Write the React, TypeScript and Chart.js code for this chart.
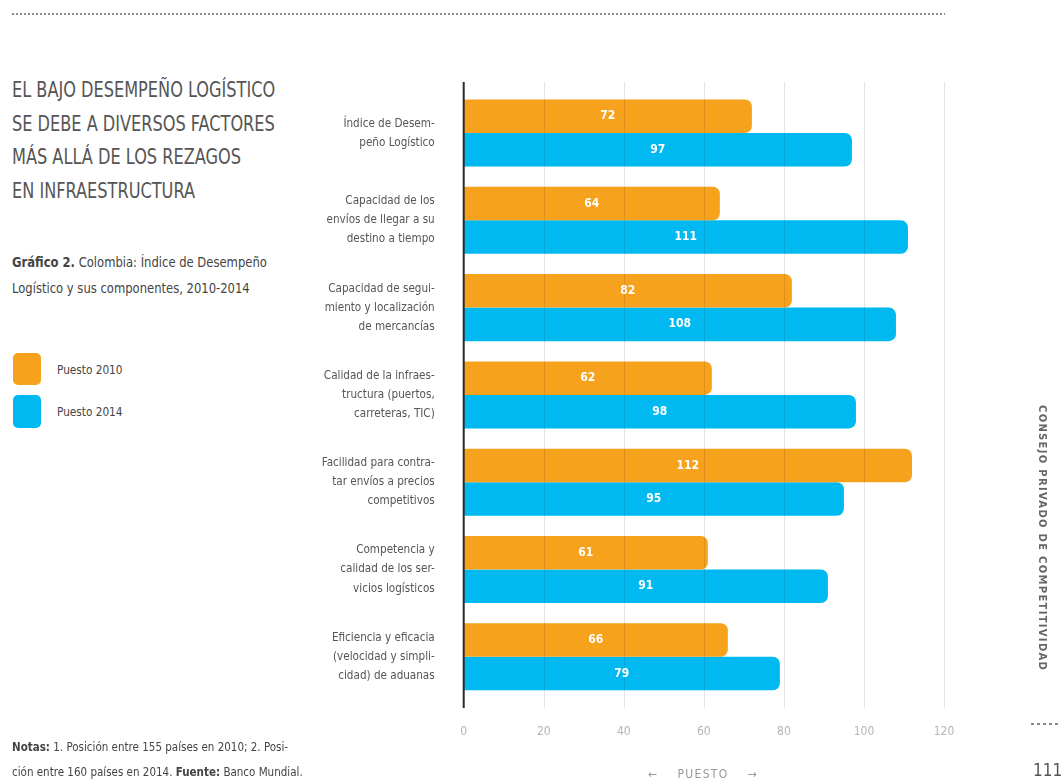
import React, { useEffect, useRef } from "react";
import { Chart, registerables } from "chart.js";

Chart.register(...registerables);

const categories: string[][] = [
  ["Índice de Desem-", "peño Logístico"],
  ["Capacidad de los", "envíos de llegar a su", "destino a tiempo"],
  ["Capacidad de segui-", "miento y localización", "de mercancías"],
  ["Calidad de la infraes-", "tructura (puertos,", "carreteras, TIC)"],
  ["Facilidad para contra-", "tar envíos a precios", "competitivos"],
  ["Competencia y", "calidad de los ser-", "vicios logísticos"],
  ["Eficiencia y eficacia", "(velocidad y simpli-", "cidad) de aduanas"],
];
const puesto2010 = [72, 64, 82, 62, 112, 61, 66];
const puesto2014 = [97, 111, 108, 98, 95, 91, 79];
const xTicks = [0, 20, 40, 60, 80, 100, 120];

const ORANGE = "#F7A21C";
const BLUE = "#00B9F0";
const COND = "'Liberation Sans Narrow', 'DejaVu Sans Condensed', 'Roboto', sans-serif";

const overlayPlugin = {
  id: "overlay",
  afterDatasetsDraw(chart: any) {
    const { ctx, chartArea, scales } = chart;
    const x = scales.x;
    const top = chartArea.top - 7.5;
    const bottom = chartArea.bottom + 7.5;
    ctx.save();
    ctx.strokeStyle = "rgba(0,0,0,0.1)";
    ctx.lineWidth = 1;
    xTicks.forEach((v) => {
      if (v === 0) return;
      const px = Math.round(x.getPixelForValue(v)) + 0.5;
      ctx.beginPath();
      ctx.moveTo(px, top);
      ctx.lineTo(px, bottom);
      ctx.stroke();
    });
    const x0 = x.getPixelForValue(0);
    ctx.strokeStyle = "#2a2a2a";
    ctx.lineWidth = 2;
    ctx.beginPath();
    ctx.moveTo(x0, top);
    ctx.lineTo(x0, bottom);
    ctx.stroke();
    ctx.fillStyle = "#ffffff";
    ctx.font = `bold 12px ${COND}`;
    ctx.textAlign = "center";
    ctx.textBaseline = "middle";
    chart.data.datasets.forEach((ds: any, i: number) => {
      const meta = chart.getDatasetMeta(i);
      meta.data.forEach((bar: any, j: number) => {
        const cx = (x0 + bar.x) / 2;
        ctx.fillText(String(ds.data[j]), cx, bar.y);
      });
    });
    ctx.restore();
  },
};

function BarChart() {
  const ref = useRef<HTMLCanvasElement | null>(null);
  useEffect(() => {
    if (!ref.current) return;
    const chart = new Chart(ref.current, {
      type: "bar",
      data: {
        labels: categories,
        datasets: [
          {
            label: "Puesto 2010",
            data: puesto2010,
            backgroundColor: ORANGE,
            borderRadius: 7,
            borderSkipped: "start",
            categoryPercentage: 0.768,
            barPercentage: 1,
          },
          {
            label: "Puesto 2014",
            data: puesto2014,
            backgroundColor: BLUE,
            borderRadius: 7,
            borderSkipped: "start",
            categoryPercentage: 0.768,
            barPercentage: 1,
          },
        ],
      },
      options: {
        indexAxis: "y",
        responsive: false,
        animation: false,
        layout: { padding: { left: 0, top: 89.4, right: 120, bottom: 0 } },
        plugins: {
          legend: { display: false },
          tooltip: { enabled: false },
        },
        scales: {
          x: {
            type: "linear",
            min: 0,
            max: 120,
            border: { display: false },
            grid: { display: false, drawTicks: false },
            afterBuildTicks: (s: any) => {
              s.ticks = xTicks.map((v) => ({ value: v }));
            },
            afterFit: (s: any) => {
              s.height = 83.6;
            },
            ticks: {
              padding: 24,
              color: "#b4b4b4",
              font: { family: COND, size: 12 },
            },
          },
          y: {
            type: "category",
            border: { display: false },
            grid: { display: false, drawTicks: false },
            afterFit: (s: any) => {
              s.width = 463.7;
            },
            ticks: {
              padding: 29,
              color: "#555555",
              font: { family: COND, size: 11.6, lineHeight: 1.64 },
            },
          },
        },
      },
      plugins: [overlayPlugin],
    } as any);
    return () => chart.destroy();
  }, []);
  return (
    <canvas
      ref={ref}
      width={1064}
      height={784}
      style={{ position: "absolute", left: 0, top: 0, width: 1064, height: 784 }}
    />
  );
}

function sx(k: number): React.CSSProperties {
  return { transform: `scaleX(${k})`, transformOrigin: "0 0" };
}

export default function App() {
  const txt: React.CSSProperties = { position: "absolute", fontFamily: COND, whiteSpace: "nowrap" };
  return (
    <div
      style={{
        position: "fixed",
        left: 0,
        top: 0,
        width: 1064,
        height: 784,
        background: "#ffffff",
        overflow: "hidden",
      }}
    >
      <div
        style={{
          position: "absolute",
          left: 12,
          top: 13,
          width: 933,
          height: 2,
          background: "repeating-linear-gradient(to right, #8a8a8a 0 2px, transparent 2px 4px)",
        }}
      />
      <div style={{ ...txt, ...sx(0.855), left: 12, top: 74, fontSize: 21, lineHeight: "33.7px", color: "#555" }}>
        EL BAJO DESEMPEÑO LOGÍSTICO
        <br />
        SE DEBE A DIVERSOS FACTORES
        <br />
        MÁS ALLÁ DE LOS REZAGOS
        <br />
        EN INFRAESTRUCTURA
      </div>
      <div style={{ ...txt, ...sx(0.92), left: 12, top: 249, fontSize: 14, lineHeight: "26px", color: "#444" }}>
        <b>Gráfico 2.</b> Colombia: Índice de Desempeño
        <br />
        Logístico y sus componentes, 2010-2014
      </div>
      <div style={{ position: "absolute", left: 13, top: 353, width: 28, height: 32, borderRadius: 5, background: ORANGE }} />
      <div style={{ position: "absolute", left: 13, top: 395, width: 28, height: 33, borderRadius: 5, background: BLUE }} />
      <div style={{ ...txt, ...sx(0.9), left: 57, top: 361, fontSize: 13, lineHeight: "18px", color: "#444" }}>Puesto 2010</div>
      <div style={{ ...txt, ...sx(0.9), left: 57, top: 403, fontSize: 13, lineHeight: "18px", color: "#444" }}>Puesto 2014</div>
      <BarChart />
      <div style={{ ...txt, ...sx(0.92), left: 12, top: 733.5, fontSize: 12.5, lineHeight: "25px", color: "#444" }}>
        <b>Notas:</b> 1. Posición entre 155 países en 2010; 2. Posi-
        <br />
        ción entre 160 países en 2014. <b>Fuente:</b> Banco Mundial.
      </div>
      <div
        style={{
          ...txt,
          left: 643,
          width: 120,
          textAlign: "center",
          top: 766,
          fontSize: 12,
          lineHeight: "16px",
          color: "#999",
          letterSpacing: 1.3,
        }}
      >
        ←&nbsp;&nbsp;&nbsp;&nbsp;PUESTO&nbsp;&nbsp;&nbsp;&nbsp;→
      </div>
      <div
        style={{
          position: "absolute",
          left: 1037,
          top: 405,
          writingMode: "vertical-rl",
          fontFamily: "'DejaVu Sans', sans-serif",
          fontWeight: "bold",
          fontSize: 10,
          letterSpacing: 1.3,
          color: "#666",
          whiteSpace: "nowrap",
        }}
      >
        CONSEJO PRIVADO DE COMPETITIVIDAD
      </div>
      <div
        style={{
          position: "absolute",
          left: 1031,
          top: 723,
          width: 30,
          height: 2,
          background: "repeating-linear-gradient(to right, #8a8a8a 0 3px, transparent 3px 6px)",
        }}
      />
      <div style={{ ...txt, left: 1033, top: 760, fontSize: 17, lineHeight: "20px", color: "#555" }}>111</div>
    </div>
  );
}
